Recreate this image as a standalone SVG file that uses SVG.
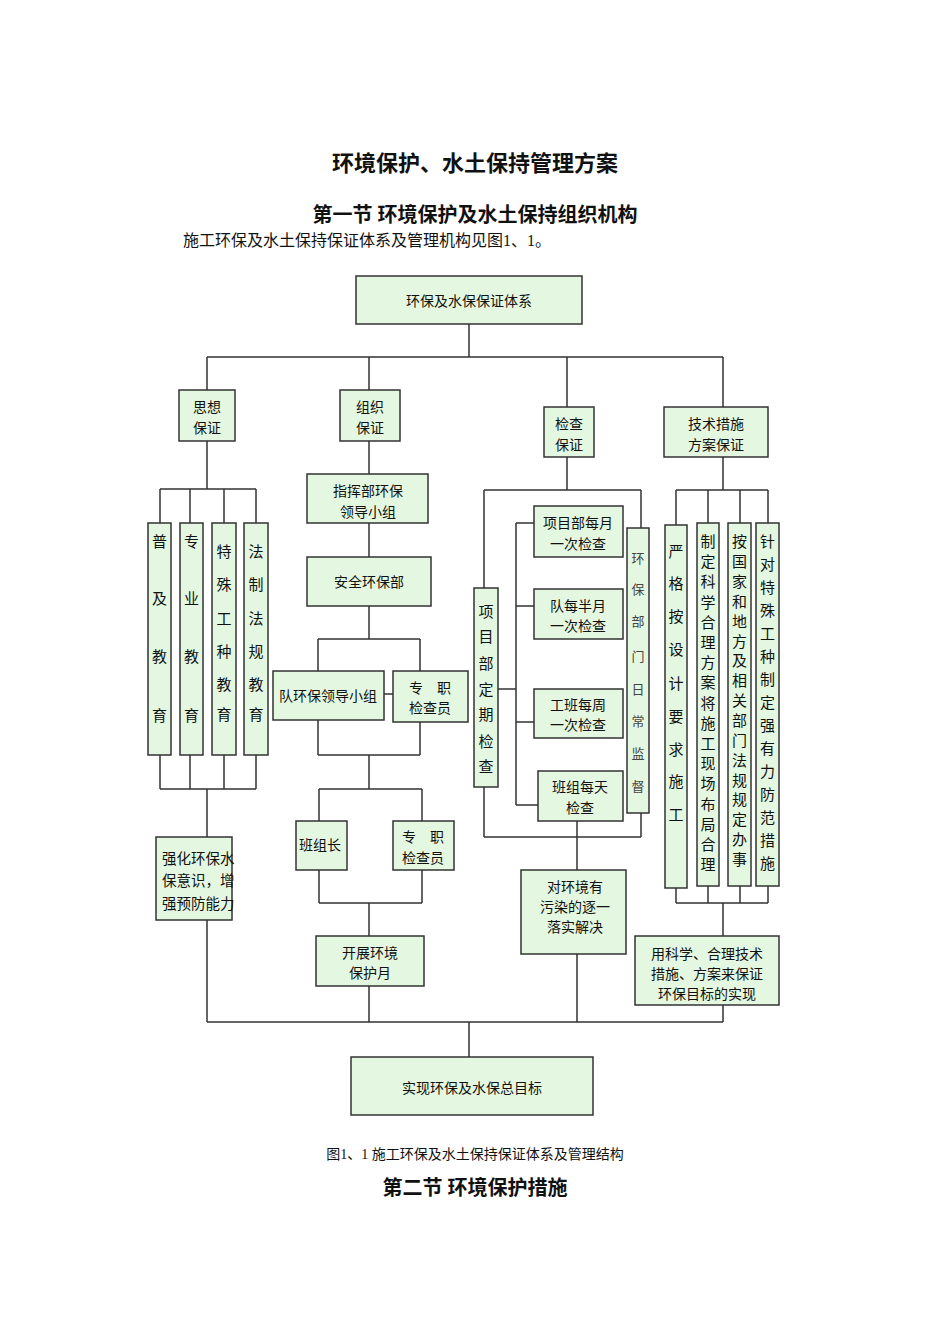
<svg xmlns="http://www.w3.org/2000/svg" width="950" height="1344" viewBox="0 0 950 1344">
<style>
.b{fill:#e4f7e0;stroke:#333;stroke-width:1.5}
.l{fill:none;stroke:#333;stroke-width:1.5}
text{font-family:"Noto Sans CJK SC","Noto Sans",sans-serif;fill:#111;font-size:14px;text-anchor:middle;dominant-baseline:central}
text.v{font-size:15px}
text.vs{font-size:13px;fill:#444}
text.h{font-family:"Liberation Serif","Noto Sans CJK SC",serif;font-weight:bold}
text.p{font-family:"Liberation Serif","Noto Sans CJK SC",serif}
text.t1{font-size:22px}
text.t2{font-size:20px}
text.t3{font-size:16px;text-anchor:start}
text.lt{text-anchor:start;font-size:14.5px}
</style>
<rect width="950" height="1344" fill="#fff"/>
<text class="h t1" x="475" y="163">环境保护、水土保持管理方案</text>
<text class="h t2" x="475" y="215">第一节 环境保护及水土保持组织机构</text>
<text class="p t3" x="183" y="240">施工环保及水土保持保证体系及管理机构见图1、1。</text>
<g id="connectors">
<path class="l" d="M469 324V357M207 357H723M207 357V390M369 357V390M567 357V407M723 357V407"/>
<path class="l" d="M207 441V489M160 489H256M160 489V523M190 489V523M224 489V523M256 489V523M160 755V789M190 755V789M224 755V789M256 755V789M160 789H256M207 789V837M207 920V1022"/>
<path class="l" d="M369 441V474M369 523V557M369 606V639M318 639H420M318 639V671M420 639V671M384 694H393M318 720V755M420 722V755M318 755H420M369 755V789M319 789H422M319 789V821M422 789V821M319 870V903M422 870V903M319 903H422M369 903V936M369 986V1022"/>
<path class="l" d="M567 457V490M484 490H641M484 490V588M641 490V528M484 787V837M641 813V837M484 837H641M498 689H516M516 523V805M516 523H534M516 606H534M516 722H534M516 805H538M577 821V870M577 954V1022"/>
<path class="l" d="M723 457V490M676 490H768M676 490V525M708 490V523M740 490V523M768 490V523M676 888V903M708 886V903M740 886V903M768 886V903M676 903H768M723 903V936M723 1005V1022"/>
<path class="l" d="M207 1022H723M469 1022V1057"/>
</g>
<g id="n_top"><rect class="b" x="356" y="276" width="226" height="48"/><text x="469" y="300">环保及水保保证体系</text></g>
<g id="n_sx"><rect class="b" x="179" y="390" width="56" height="51"/><text x="207" y="406">思想</text><text x="207" y="427">保证</text></g>
<g id="n_zz"><rect class="b" x="340" y="390" width="60" height="51"/><text x="370" y="406">组织</text><text x="370" y="427">保证</text></g>
<g id="n_jc"><rect class="b" x="544" y="407" width="50" height="50"/><text x="569" y="423">检查</text><text x="569" y="444">保证</text></g>
<g id="n_js"><rect class="b" x="664" y="407" width="104" height="50"/><text x="716" y="423">技术措施</text><text x="716" y="444">方案保证</text></g>
<g id="n_pj"><rect class="b" x="148" y="523" width="23" height="232"/><text class="v" x="159.5" y="540">普</text><text class="v" x="159.5" y="597">及</text><text class="v" x="159.5" y="655">教</text><text class="v" x="159.5" y="714">育</text></g>
<g id="n_zy"><rect class="b" x="180" y="523" width="23" height="232"/><text class="v" x="191.5" y="540">专</text><text class="v" x="191.5" y="597">业</text><text class="v" x="191.5" y="655">教</text><text class="v" x="191.5" y="714">育</text></g>
<g id="n_ts"><rect class="b" x="212" y="523" width="24" height="232"/><text class="v" x="224" y="550">特</text><text class="v" x="224" y="583">殊</text><text class="v" x="224" y="617">工</text><text class="v" x="224" y="650">种</text><text class="v" x="224" y="683">教</text><text class="v" x="224" y="713">育</text></g>
<g id="n_fz"><rect class="b" x="244" y="523" width="24" height="232"/><text class="v" x="256" y="550">法</text><text class="v" x="256" y="583">制</text><text class="v" x="256" y="617">法</text><text class="v" x="256" y="650">规</text><text class="v" x="256" y="683">教</text><text class="v" x="256" y="713">育</text></g>
<g id="n_qh"><rect class="b" x="156" y="837" width="76" height="83"/><text class="lt" x="162" y="857">强化环保水</text><text class="lt" x="162" y="879">保意识，增</text><text class="lt" x="162" y="902">强预防能力</text></g>
<g id="n_zhb"><rect class="b" x="307" y="474" width="121" height="49"/><text x="368" y="490">指挥部环保</text><text x="368" y="511">领导小组</text></g>
<g id="n_aq"><rect class="b" x="307" y="557" width="124" height="49"/><text x="369" y="581">安全环保部</text></g>
<g id="n_dhb"><rect class="b" x="273" y="671" width="111" height="49"/><text x="328" y="695">队环保领导小组</text></g>
<g id="n_zzj1"><rect class="b" x="393" y="671" width="75" height="51"/><text x="430" y="687">专　职</text><text x="430" y="707">检查员</text></g>
<g id="n_bzz"><rect class="b" x="296" y="821" width="51" height="49"/><text x="320" y="844">班组长</text></g>
<g id="n_zzj2"><rect class="b" x="393" y="821" width="61" height="49"/><text x="423" y="836">专　职</text><text x="423" y="857">检查员</text></g>
<g id="n_kz"><rect class="b" x="316" y="936" width="108" height="50"/><text x="370" y="952">开展环境</text><text x="370" y="972">保护月</text></g>
<g id="n_xmdq"><rect class="b" x="474" y="588" width="24" height="199"/><text class="v" x="486" y="610">项</text><text class="v" x="486" y="635">目</text><text class="v" x="486" y="662">部</text><text class="v" x="486" y="688">定</text><text class="v" x="486" y="713">期</text><text class="v" x="486" y="740">检</text><text class="v" x="486" y="765">查</text></g>
<g id="n_m1"><rect class="b" x="534" y="506" width="89" height="51"/><text x="578" y="522">项目部每月</text><text x="578" y="543">一次检查</text></g>
<g id="n_m2"><rect class="b" x="534" y="589" width="89" height="50"/><text x="578" y="605">队每半月</text><text x="578" y="625">一次检查</text></g>
<g id="n_m3"><rect class="b" x="534" y="689" width="89" height="49"/><text x="578" y="704">工班每周</text><text x="578" y="724">一次检查</text></g>
<g id="n_m4"><rect class="b" x="538" y="771" width="85" height="50"/><text x="580" y="786">班组每天</text><text x="580" y="807">检查</text></g>
<g id="n_hbjd"><rect class="b" x="627" y="528" width="22" height="285"/><text class="vs" x="638" y="557">环</text><text class="vs" x="638" y="588">保</text><text class="vs" x="638" y="620">部</text><text class="vs" x="638" y="655">门</text><text class="vs" x="638" y="688">日</text><text class="vs" x="638" y="720">常</text><text class="vs" x="638" y="752">监</text><text class="vs" x="638" y="785">督</text></g>
<g id="n_dhj"><rect class="b" x="521" y="870" width="105" height="84"/><text x="575" y="886">对环境有</text><text x="575" y="906">污染的逐一</text><text x="575" y="926">落实解决</text></g>
<g id="n_yg"><rect class="b" x="665" y="525" width="22" height="363"/><text class="v" x="676" y="550">严</text><text class="v" x="676" y="582">格</text><text class="v" x="676" y="615">按</text><text class="v" x="676" y="648">设</text><text class="v" x="676" y="682">计</text><text class="v" x="676" y="715">要</text><text class="v" x="676" y="748">求</text><text class="v" x="676" y="780">施</text><text class="v" x="676" y="813">工</text></g>
<g id="n_zd"><rect class="b" x="697" y="523" width="22" height="363"/><text class="v" x="708" y="540">制</text><text class="v" x="708" y="560">定</text><text class="v" x="708" y="580">科</text><text class="v" x="708" y="601">学</text><text class="v" x="708" y="621">合</text><text class="v" x="708" y="641">理</text><text class="v" x="708" y="661">方</text><text class="v" x="708" y="681">案</text><text class="v" x="708" y="702">将</text><text class="v" x="708" y="722">施</text><text class="v" x="708" y="742">工</text><text class="v" x="708" y="762">现</text><text class="v" x="708" y="782">场</text><text class="v" x="708" y="803">布</text><text class="v" x="708" y="823">局</text><text class="v" x="708" y="843">合</text><text class="v" x="708" y="863">理</text></g>
<g id="n_agj"><rect class="b" x="728" y="523" width="23" height="363"/><text class="v" x="739.5" y="540">按</text><text class="v" x="739.5" y="560">国</text><text class="v" x="739.5" y="580">家</text><text class="v" x="739.5" y="600">和</text><text class="v" x="739.5" y="620">地</text><text class="v" x="739.5" y="640">方</text><text class="v" x="739.5" y="659">及</text><text class="v" x="739.5" y="679">相</text><text class="v" x="739.5" y="699">关</text><text class="v" x="739.5" y="719">部</text><text class="v" x="739.5" y="739">门</text><text class="v" x="739.5" y="759">法</text><text class="v" x="739.5" y="779">规</text><text class="v" x="739.5" y="798">规</text><text class="v" x="739.5" y="818">定</text><text class="v" x="739.5" y="838">办</text><text class="v" x="739.5" y="858">事</text></g>
<g id="n_zdts"><rect class="b" x="756" y="523" width="23" height="363"/><text class="v" x="767.5" y="540">针</text><text class="v" x="767.5" y="563">对</text><text class="v" x="767.5" y="586">特</text><text class="v" x="767.5" y="609">殊</text><text class="v" x="767.5" y="632">工</text><text class="v" x="767.5" y="655">种</text><text class="v" x="767.5" y="678">制</text><text class="v" x="767.5" y="701">定</text><text class="v" x="767.5" y="724">强</text><text class="v" x="767.5" y="747">有</text><text class="v" x="767.5" y="770">力</text><text class="v" x="767.5" y="793">防</text><text class="v" x="767.5" y="816">范</text><text class="v" x="767.5" y="839">措</text><text class="v" x="767.5" y="862">施</text></g>
<g id="n_ykx"><rect class="b" x="635" y="936" width="144" height="69"/><text x="707" y="953">用科学、合理技术</text><text x="707" y="973">措施、方案来保证</text><text x="707" y="993">环保目标的实现</text></g>
<g id="n_goal"><rect class="b" x="351" y="1057" width="242" height="58"/><text x="472" y="1087">实现环保及水保总目标</text></g>
<text class="p" x="475" y="1154">图1、1 施工环保及水土保持保证体系及管理结构</text>
<text class="h t2" x="475" y="1188">第二节 环境保护措施</text>
</svg>
